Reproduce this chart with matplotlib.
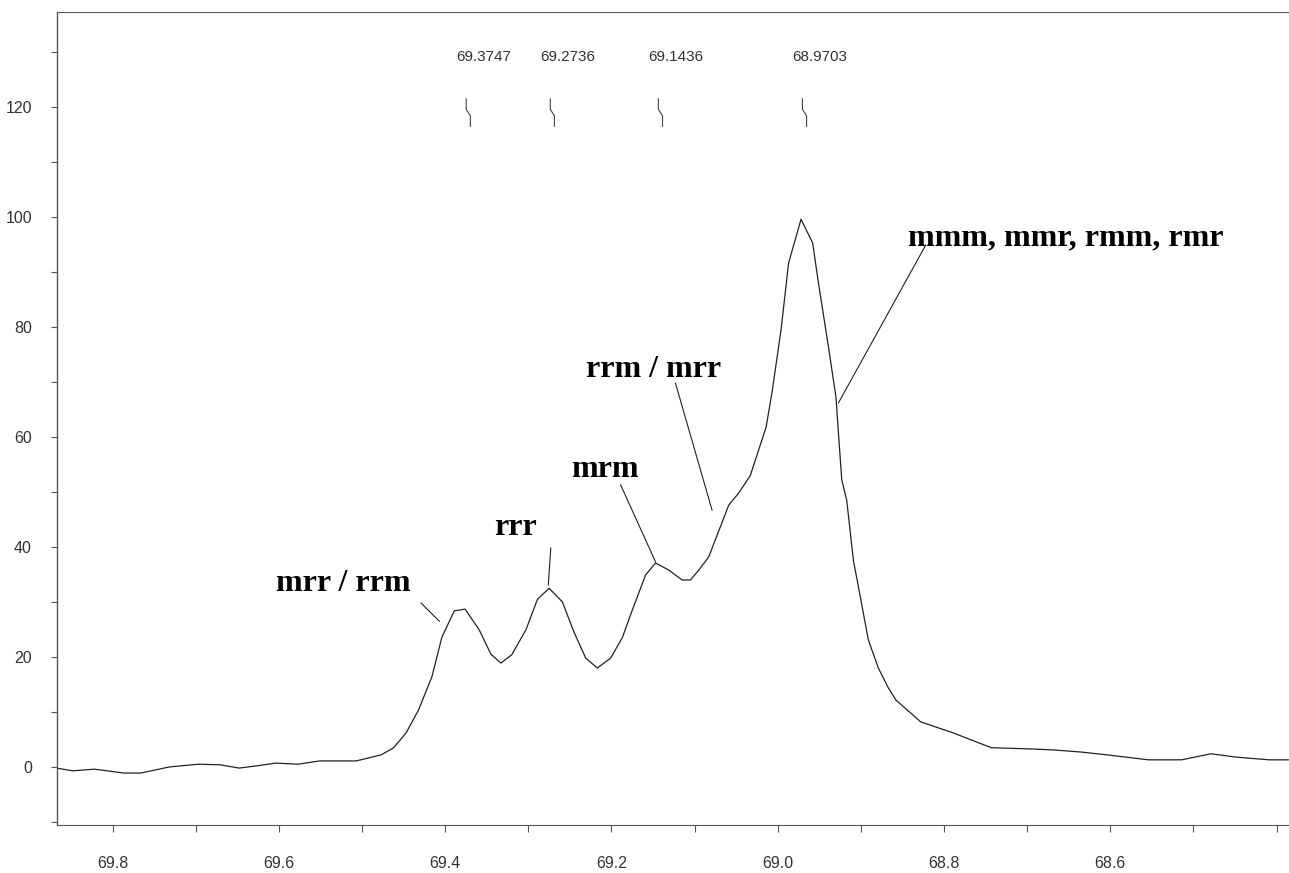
import numpy as np
import matplotlib.pyplot as plt
from matplotlib.ticker import MultipleLocator, FixedLocator

# chemical shift (ppm) and intensity
shift = [69.868, 69.848, 69.822, 69.787, 69.766, 69.732, 69.697, 69.671, 69.648, 69.627,
         69.604, 69.577, 69.551, 69.507, 69.477, 69.462, 69.447, 69.432, 69.416, 69.404,
         69.389, 69.376, 69.359, 69.345, 69.333, 69.320, 69.303, 69.289, 69.275, 69.259,
         69.245, 69.231, 69.217, 69.201, 69.187, 69.175, 69.159, 69.147, 69.131, 69.115,
         69.105, 69.095, 69.083, 69.059, 69.047, 69.033, 69.014, 69.007, 68.996, 68.987,
         68.972, 68.958, 68.951, 68.939, 68.930, 68.923, 68.917, 68.909, 68.900, 68.891,
         68.879, 68.867, 68.858, 68.828, 68.789, 68.743, 68.699, 68.668, 68.634, 68.604,
         68.554, 68.514, 68.479, 68.449, 68.409, 68.386]
intensity = [-0.2, -0.7, -0.4, -1.1, -1.1, 0.0, 0.5, 0.4, -0.2, 0.2,
             0.7, 0.5, 1.1, 1.1, 2.2, 3.5, 6.2, 10.4, 16.4, 23.6,
             28.4, 28.7, 24.9, 20.5, 18.9, 20.4, 24.9, 30.5, 32.5, 30.0,
             24.5, 19.8, 18.0, 19.8, 23.5, 28.5, 34.9, 37.1, 35.8, 34.0,
             34.0, 35.8, 38.2, 47.6, 49.8, 53.0, 61.8, 68.0, 79.5, 91.6,
             99.6, 95.3, 88.0, 76.4, 67.3, 52.2, 48.5, 37.6, 30.4, 23.1,
             18.0, 14.4, 12.2, 8.2, 6.2, 3.5, 3.3, 3.1, 2.7, 2.2,
             1.3, 1.3, 2.4, 1.8, 1.3, 1.3]

# labelled x ticks (no label past 68.6 in the original)
xtick_vals = [69.8, 69.6, 69.4, 69.2, 69.0, 68.8, 68.6]

# picked peaks
peak_pos = [69.3747, 69.2736, 69.1436, 68.9703]
peak_labels = ['69.3747', '69.2736', '69.1436', '68.9703']

# triad assignments: label, text position, leader line (from, to)
triads = ['mrr / rrm', 'rrr', 'mrm', 'rrm / mrr', 'mmm, mmr, rmm, rmr']
triad_xy = [(69.603, 32.0), (69.341, 42.2), (69.249, 52.7), (69.231, 70.9), (68.843, 94.9)]
leader_from = [(69.429, 29.8), (69.273, 39.8), (69.189, 51.3), (69.123, 69.8), (68.822, 94.9)]
leader_to = [(69.407, 26.5), (69.276, 33.1), (69.147, 37.3), (69.079, 46.7), (68.927, 66.2)]

sans = ['Liberation Sans', 'DejaVu Sans']
serif = ['Liberation Serif', 'DejaVu Serif']

fig = plt.figure(figsize=(12.89, 8.73), dpi=100)
ax = fig.add_axes([0.0442, 0.055, 0.9558, 0.9313])

ax.plot(shift, intensity, color='#222222', lw=0.9)

# peak pick markers (small kinked ticks) and their values
for p, lab in zip(peak_pos, peak_labels):
    ax.plot([p, p, p - 0.005, p - 0.005], [121.5, 119.6, 118.4, 116.5],
            color='#444444', lw=0.8)
    ax.annotate(lab, xy=(p, 129.1), xytext=(-10, 0), textcoords='offset pixels',
                ha='left', va='center', fontsize=11, family=sans, color='#333333')

# assignments
for lab, (tx, ty), (x0, y0), (x1, y1) in zip(triads, triad_xy, leader_from, leader_to):
    ax.text(tx, ty, lab, ha='left', va='baseline', fontsize=23,
            family=serif, fontweight='bold', color='black')
    ax.plot([x0, x1], [y0, y1], color='#222222', lw=0.8)

ax.set_xlim(69.867, 68.385)
ax.set_ylim(-10.55, 137.3)

ax.xaxis.set_major_locator(FixedLocator(xtick_vals))
ax.xaxis.set_minor_locator(MultipleLocator(0.1))
ax.yaxis.set_major_locator(MultipleLocator(20))
ax.yaxis.set_minor_locator(MultipleLocator(10))
ax.xaxis.set_major_formatter(plt.FuncFormatter(lambda v, pos: f'{v:.1f}'))
ax.yaxis.set_major_formatter(plt.FuncFormatter(lambda v, pos: f'{v:.0f}'))

ax.tick_params(axis='x', which='both', direction='out', length=5, width=0.8,
               color='#555555', pad=17, labelsize=11.5, labelcolor='#333333')
ax.tick_params(axis='y', which='both', direction='out', length=4, width=0.8,
               color='#555555', pad=14, labelsize=11.5, labelcolor='#333333')
for lab in ax.get_xticklabels() + ax.get_yticklabels():
    lab.set_family(sans)

ax.spines['right'].set_visible(False)
ax.spines['left'].set_color('#555555')
ax.spines['left'].set_linewidth(1.0)
for side in ['top', 'bottom']:
    ax.spines[side].set_color('#555555')
    ax.spines[side].set_linewidth(0.8)
    ax.spines[side].set_linestyle((0, (1.5, 1)))

fig.savefig('out.png', dpi=100)
